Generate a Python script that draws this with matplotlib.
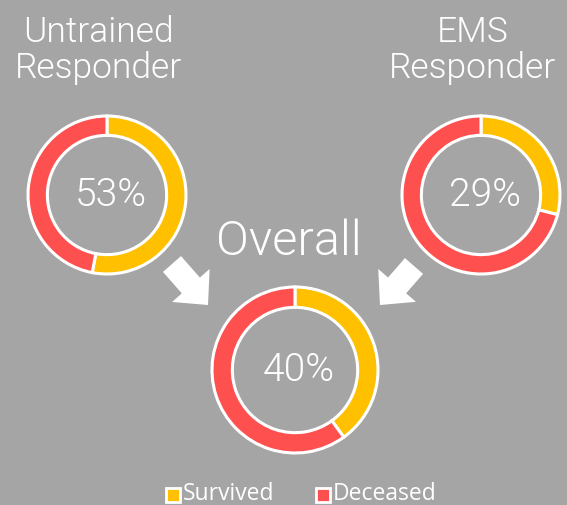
import matplotlib
matplotlib.use("Agg")
import matplotlib.pyplot as plt
from matplotlib.patches import FancyArrow, Rectangle

W, H = 567, 505
BG = "#A5A5A5"
YEL = "#FFC000"
RED = "#FF5050"
TXT = "#FFFFFF"
FONT = "Roboto"
WT = 300

groups = ["Untrained\nResponder", "EMS\nResponder", "Overall"]
survived = [53, 29, 40]
deceased = [47, 71, 60]
labels = ["Survived", "Deceased"]

fig = plt.figure(figsize=(W / 100, H / 100), dpi=100, facecolor=BG)
ax = fig.add_axes([0, 0, 1, 1], facecolor=BG)

centers = [(107, 195), (481, 195), (295, 370)]
radii = [79, 79, 83]
for (cx, cy), r, s, d in zip(centers, radii, survived, deceased):
    ax.pie([s, d], colors=[YEL, RED], startangle=90, counterclock=False,
           center=(cx, H - cy), radius=r,
           wedgeprops=dict(width=r * 0.245, edgecolor="white", linewidth=2.2))
    ax.text(cx + 4, H - cy, f"{s}%", ha="center", va="center", color=TXT,
            fontsize=28, fontfamily=FONT, fontweight=WT)

ax.set_xlim(0, W)
ax.set_ylim(0, H)
ax.set_aspect("equal")
ax.axis("off")

ax.text(98, H - 50, groups[0], ha="center", va="center", color=TXT,
        fontsize=25.5, fontfamily=FONT, fontweight=WT, linespacing=1.08)
ax.text(473, H - 50, groups[1], ha="center", va="center", color=TXT,
        fontsize=25.5, fontfamily=FONT, fontweight=WT, linespacing=1.08)
ax.text(289, H - 242, groups[2], ha="center", va="center", color=TXT,
        fontsize=35, fontfamily=FONT, fontweight=WT)

# arrows
ax.add_patch(FancyArrow(172, H - 264, 36, -41, width=24,
                        head_width=50, head_length=26, length_includes_head=True,
                        color="white", lw=0))
ax.add_patch(FancyArrow(414, H - 266, -34, -39, width=24,
                        head_width=50, head_length=26, length_includes_head=True,
                        color="white", lw=0))

# legend
for x0, col, lab in [(166, YEL, labels[0]), (316, RED, labels[1])]:
    ax.add_patch(Rectangle((x0, H - 502), 14, 14, facecolor=col,
                           edgecolor="white", lw=2))
    ax.text(x0 + 17, H - 494, lab, ha="left", va="center", color=TXT,
            fontsize=16.5, fontfamily="Open Sans")

fig.savefig("out.png", dpi=100, facecolor=BG)
